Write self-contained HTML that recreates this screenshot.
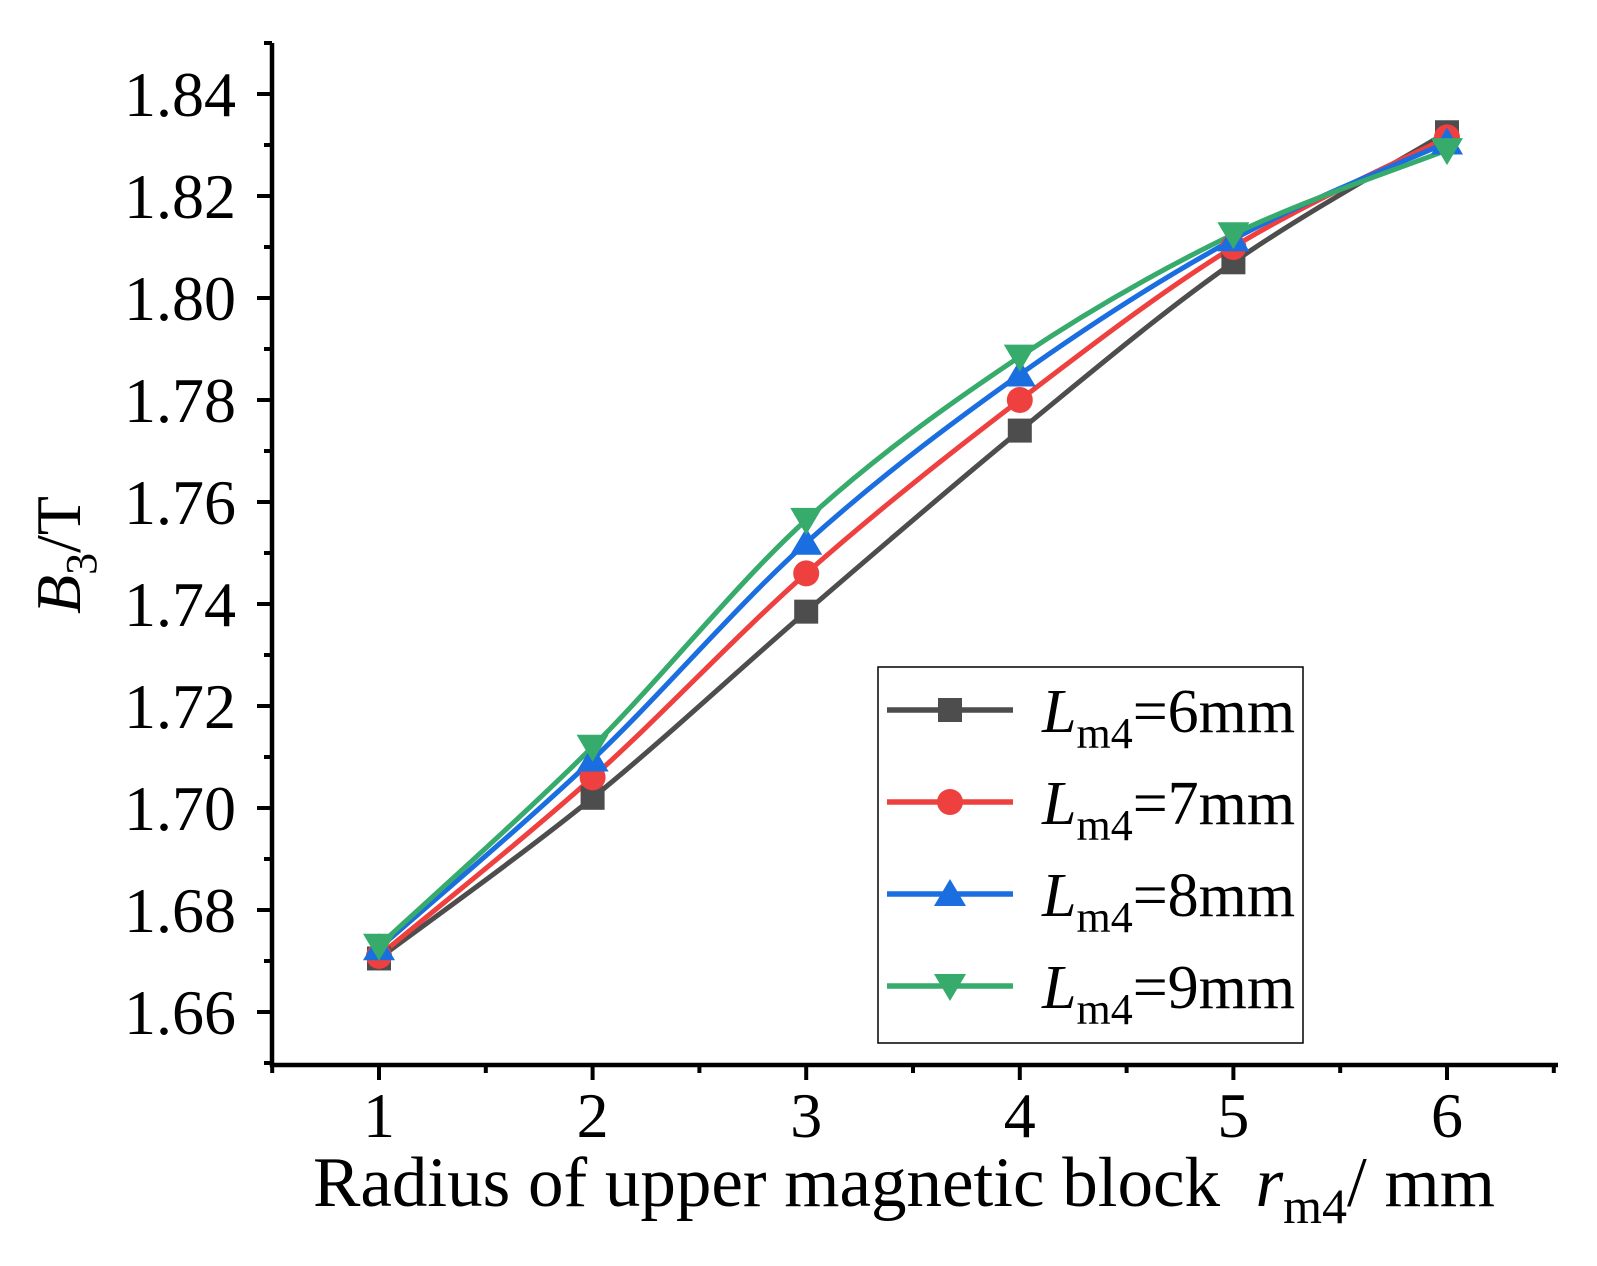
<!DOCTYPE html>
<html><head><meta charset="utf-8"><style>
body{margin:0;background:#fff}
svg{display:block;font-family:"Liberation Serif",serif}
</style></head><body>
<svg id="c" width="1597" height="1266" viewBox="0 0 1597 1266">
<g id="plot"></g>
<rect x="878" y="667" width="425" height="376" fill="#fff" stroke="#000" stroke-width="1.5"/>
<g id="legend"></g>
<text x="0" y="0" transform="translate(80,555) rotate(-90)" text-anchor="middle" font-size="64"><tspan font-style="italic">B</tspan><tspan font-size="44" dy="16">3</tspan><tspan dy="-16">/T</tspan></text>
<text x="313" y="1206" font-size="71" xml:space="preserve">Radius of upper magnetic block  <tspan font-style="italic">r</tspan><tspan font-size="50" dy="17">m4</tspan><tspan dy="-17">/ mm</tspan></text>
</svg>
<script>
const categories=[1,2,3,4,5,6];
const seriesNames=["6mm","7mm","8mm","9mm"];
const s6=[1.6705,1.702,1.7385,1.774,1.807,1.8325];
const s7=[1.671,1.706,1.746,1.780,1.810,1.8315];
const s8=[1.6725,1.7095,1.752,1.785,1.8115,1.8305];
const s9=[1.673,1.712,1.7565,1.7885,1.8125,1.829];
const yTicks=["1.66","1.68","1.70","1.72","1.74","1.76","1.78","1.80","1.82","1.84"];
const xTicks=["1","2","3","4","5","6"];
const colors=["#4d4d4d","#ef4040","#1a6ee0","#37ab6b"];
const markers=["square","circle","up","down"];
const NS="http://www.w3.org/2000/svg";
const X0=272,X1=1558,Y0=1065,Y1=43;
function xs(v){return 379+(v-1)*213.6;}
function ys(v){return 1012-(v-1.66)*5100;}
const plot=document.getElementById('plot');
function mk(tag,attrs,parent){const e=document.createElementNS(NS,tag);for(const k in attrs)e.setAttribute(k,attrs[k]);(parent||plot).appendChild(e);return e;}
let a=mk('line',{x1:X0,y1:Y1,x2:X0,y2:Y0+2,stroke:'#000','stroke-width':4.5});


a=mk('line',{x1:X0-2,y1:Y0,x2:X1,y2:Y0,stroke:'#000','stroke-width':4.5});


for(let v=1.65;v<=1.8501;v+=0.01){const y=ys(v);const maj=Math.round(v*100)%2===0;mk('line',{x1:X0-(maj?15:8),y1:y,x2:X0,y2:y,stroke:'#000','stroke-width':4});}
yTicks.forEach(t=>{const e=mk('text',{x:X0-36,y:ys(parseFloat(t))+22,'text-anchor':'end','font-size':64});e.textContent=t;

});
for(let v=0.5;v<=6.5;v+=0.5){const x=xs(v);const maj=Number.isInteger(v);mk('line',{x1:x,y1:Y0,x2:x,y2:Y0+(maj?15:8),stroke:'#000','stroke-width':4});}
xTicks.forEach(t=>{const e=mk('text',{x:xs(+t),y:1137,'text-anchor':'middle','font-size':64});e.textContent=t;

});
function marker(type,x,y,c,parent){
 let e;
 if(type==='square')e=mk('rect',{x:x-12,y:y-12,width:24,height:24,fill:c},parent);
 else if(type==='circle')e=mk('circle',{cx:x,cy:y,r:13,fill:c},parent);
 else if(type==='up')e=mk('polygon',{points:`${x},${y-15} ${x+16},${y+12} ${x-16},${y+12}`,fill:c},parent);
 else e=mk('polygon',{points:`${x},${y+15} ${x+16},${y-12} ${x-16},${y-12}`,fill:c},parent);
 return e;
}
function spline(pts){let d=`M${pts[0][0]},${pts[0][1]}`;for(let i=0;i<pts.length-1;i++){const p0=pts[Math.max(i-1,0)],p1=pts[i],p2=pts[i+1],p3=pts[Math.min(i+2,pts.length-1)];
 const c1=[p1[0]+(p2[0]-p0[0])/6,p1[1]+(p2[1]-p0[1])/6],c2=[p2[0]-(p3[0]-p1[0])/6,p2[1]-(p3[1]-p1[1])/6];
 d+=` C${c1[0]},${c1[1]} ${c2[0]},${c2[1]} ${p2[0]},${p2[1]}`;}return d;}
const all=[s6,s7,s8,s9];
all.forEach((s,i)=>{const pts=categories.map((c,j)=>[xs(c),ys(s[j])]);
 const p=mk('path',{d:spline(pts),fill:'none',stroke:colors[i],'stroke-width':5});
 
 });
all.forEach((s,i)=>{categories.forEach((c,j)=>{const m=marker(markers[i],xs(c),ys(s[j]),colors[i]);
 
 });});
const lg=document.getElementById('legend');
seriesNames.forEach((n,i)=>{const y=710+i*92;
 const g=mk('g',{},lg);
 
 
 mk('line',{x1:887,y1:y,x2:1013,y2:y,stroke:colors[i],'stroke-width':5.5},g);
 marker(markers[i],950,y,colors[i],g);
 const t=mk('text',{x:1042,y:y+22,'font-size':62},g);
 t.innerHTML=`<tspan font-style="italic">L</tspan><tspan font-size="44" dy="16">m4</tspan><tspan dy="-16">=${n}</tspan>`;});
</script>
</body></html>
